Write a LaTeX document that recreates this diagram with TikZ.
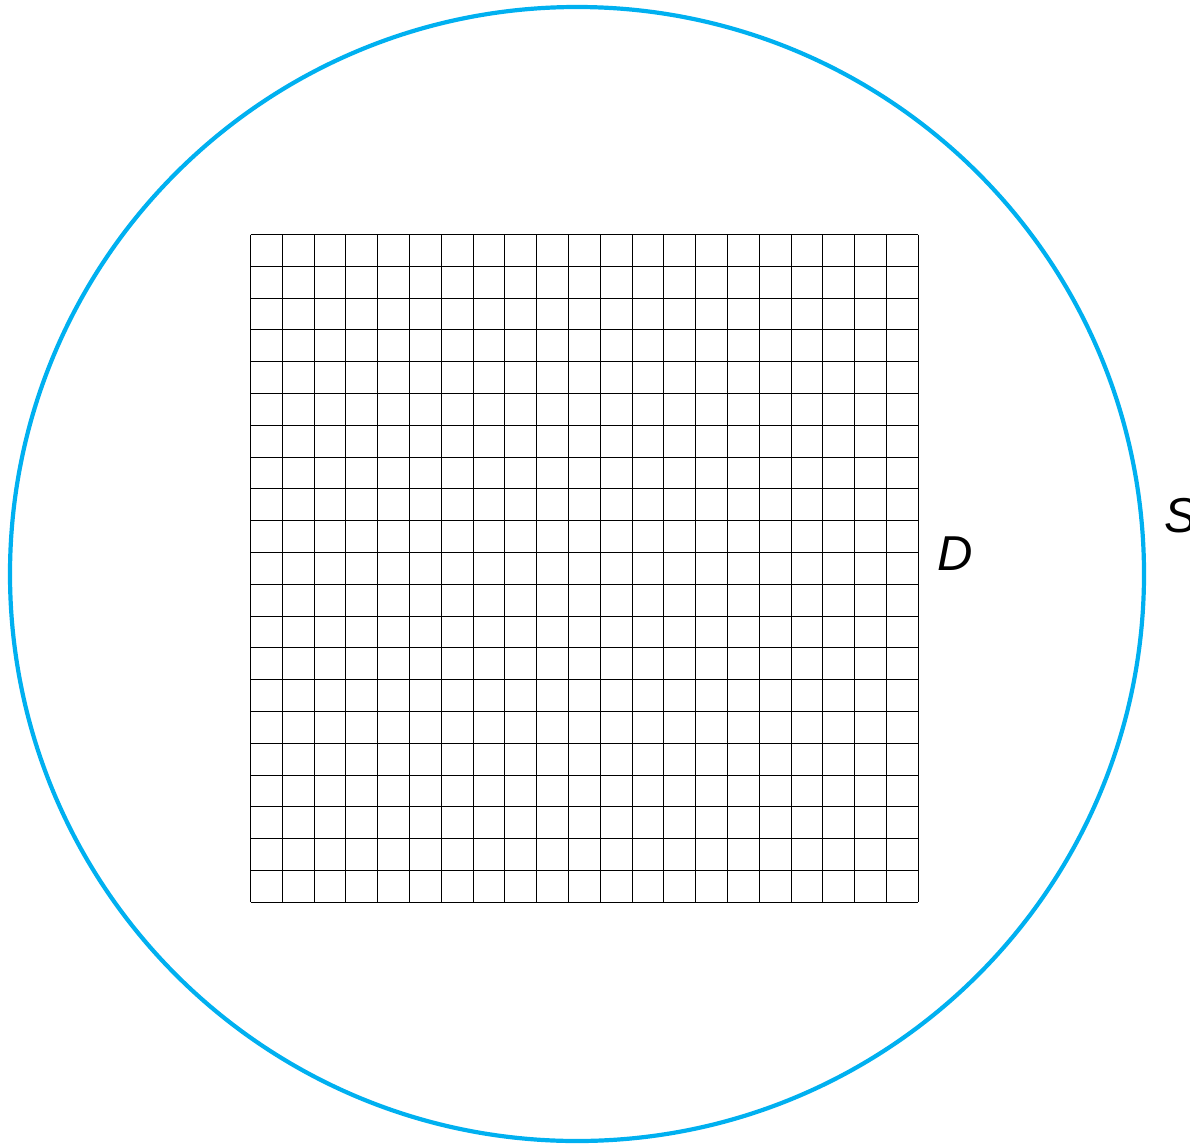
\documentclass[tikz,border=0pt]{standalone}
\usepackage{fontspec}
\setmainfont{Liberation Sans}
\definecolor{ringblue}{RGB}{0,176,240}
\begin{document}
\begin{tikzpicture}[x=1pt,y=-1pt,
  gridline/.style={black,line width=1.1pt},
  ring/.style={draw=ringblue,line width=4.2pt},
  lbl/.style={font=\fontsize{49}{49}\selectfont\itshape,inner sep=0pt}]
\useasboundingbox (0,0) rectangle (1190,1143);
\draw[ring] (577,574) circle[radius=567];
\foreach \i in {0,...,21}{
  \draw[gridline] ({250.5+\i*31.8},234.5) -- ({250.5+\i*31.8},902.3);
  \draw[gridline] (250.5,{234.5+\i*31.8}) -- (918.3,{234.5+\i*31.8});
}
\node[lbl,anchor=west] (D) at (937,554) {D};
\node[lbl,anchor=west] (S) at (1164,516) {S};
\end{tikzpicture}
\end{document}
